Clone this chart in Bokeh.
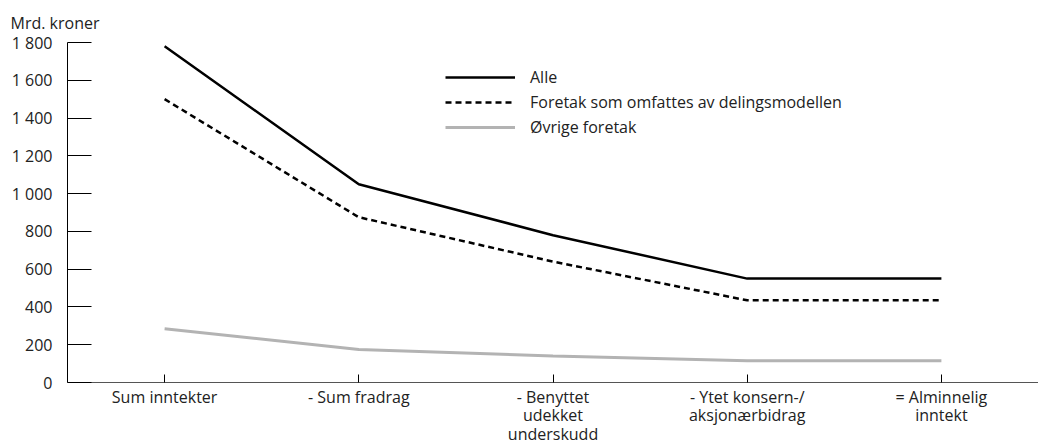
from bokeh.plotting import figure
from bokeh.models import (FactorRange, Range1d, FixedTicker, Legend, LegendItem,
                          Title, CustomJSTickFormatter)
from bokeh.embed import file_html
from bokeh.resources import INLINE

categories = ["Sum inntekter", "- Sum fradrag", "- Benyttet\nudekket\nunderskudd",
              "- Ytet konsern-/\naksjonærbidrag", "= Alminnelig\ninntekt"]
alle = [1780, 1050, 780, 550, 550]
delingsmodell = [1500, 875, 640, 435, 435]
ovrige = [285, 175, 140, 115, 115]
y_ticks = [0, 200, 400, 600, 800, 1000, 1200, 1400, 1600, 1800]

FONT = "Open Sans"
TXT = "#222222"

p = figure(x_range=FactorRange(*categories, range_padding=0), y_range=Range1d(0, 1800),
           width=1038, height=447, output_backend="svg", toolbar_location=None,
           min_border_left=67, min_border_right=0, min_border_top=42, min_border_bottom=65)
p.outline_line_color = None
p.xgrid.grid_line_color = None
p.ygrid.grid_line_color = None

r1 = p.line(categories, alle, line_color="black", line_width=2.5)
r2 = p.line(categories, delingsmodell, line_color="black", line_width=2.5, line_dash="6 4")
r3 = p.line(categories, ovrige, line_color="#b3b3b3", line_width=3)

legend = Legend(items=[LegendItem(label="Alle", renderers=[r1]),
                       LegendItem(label="Foretak som omfattes av delingsmodellen", renderers=[r2]),
                       LegendItem(label="Øvrige foretak", renderers=[r3])],
                location=(378, 244), orientation="vertical")
legend.glyph_width = 70
legend.glyph_height = 20
legend.spacing = 3
legend.label_standoff = 15
legend.padding = 0
legend.margin = 0
legend.border_line_color = None
legend.background_fill_alpha = 0
legend.label_text_font = FONT
legend.label_text_font_size = "16px"
legend.label_text_color = TXT
p.add_layout(legend, "center")

ya = p.yaxis[0]
ya.ticker = FixedTicker(ticks=y_ticks)
ya.formatter = CustomJSTickFormatter(code="""
const s = Math.round(tick).toString();
return s.replace(/\\B(?=(\\d{3})+(?!\\d))/g, " ");
""")
ya.major_tick_in = 24
ya.major_tick_out = 0
ya.minor_tick_line_color = None
ya.axis_line_color = "black"
ya.major_tick_line_color = "black"
ya.major_label_standoff = 15
ya.major_label_text_font = FONT
ya.major_label_text_font_size = "16px"
ya.major_label_text_color = TXT

xa = p.xaxis[0]
xa.major_tick_in = 8
xa.major_tick_out = 0
xa.axis_line_color = "#555555"
xa.major_tick_line_color = "black"
xa.major_label_standoff = 3
xa.major_label_text_font = FONT
xa.major_label_text_font_size = "16px"
xa.major_label_text_line_height = 0.85
xa.major_label_text_color = TXT
xa.major_label_orientation = "horizontal"
xa.axis_label_standoff = 0

title = Title(text="Mrd. kroner", align="left", offset=-57, standoff=18,
              text_font=FONT, text_font_size="16px", text_color=TXT,
              text_font_style="normal")
p.add_layout(title, "above")

open("out.html", "w").write(file_html(p, INLINE))
